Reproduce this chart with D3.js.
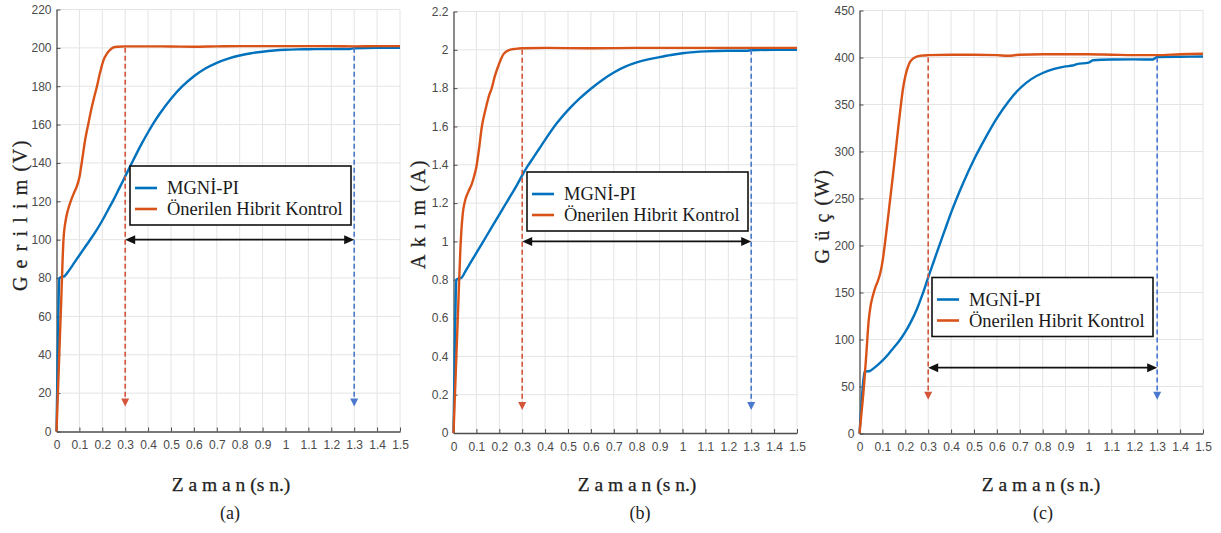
<!DOCTYPE html>
<html><head><meta charset="utf-8">
<script src="https://cdn.jsdelivr.net/npm/d3@7"></script>
<style>
body{margin:0;background:#fff;}
svg{display:block;}
</style></head><body>
<svg id="chart" width="1221" height="533"></svg>
<script>
// ---------- data ----------
const xTicks = [0,0.1,0.2,0.3,0.4,0.5,0.6,0.7,0.8,0.9,1,1.1,1.2,1.3,1.4,1.5];
const yTicksA = [0,20,40,60,80,100,120,140,160,180,200,220];
const yTicksB = [0,0.2,0.4,0.6,0.8,1,1.2,1.4,1.6,1.8,2,2.2];
const yTicksC = [0,50,100,150,200,250,300,350,400,450];

const seriesNames = ["MGNİ-PI","Önerilen Hibrit Kontrol"];
const xTitle = "Z a m a n (s n.)";
const yTitles = ["G e r i l i m  (V)","A k ı m  (A)","G ü ç  (W)"];
const captions = ["(a)","(b)","(c)"];
const settleTimes = [0.3, 1.3];          // hybrid, MGNİ-PI settling times
const arrowLevels = [100, 1.0, 70];      // level of double arrow
const dashTops = [200, 2, 400];          // top of dashed markers
const dashTips = [13, 0.12, 36];         // tip of dashed markers

// (a) Voltage
const tBlueA = [0,0.004,0.008,0.012,0.02,0.035,0.05,0.075,0.1,0.125,0.15,0.175,0.2,0.225,0.25,0.275,0.3,0.325,0.35,0.375,0.4,0.425,0.45,0.5,0.55,0.6,0.65,0.7,0.75,0.8,0.85,0.9,0.95,1.0,1.05,1.1,1.2,1.28,1.3,1.4,1.5];
const vBlueA = [0,30,60,80,80.5,81,83.2,87.5,91.9,96.2,100.5,105,110,115.5,121,127,133,139,145,150.7,156,161,165.5,173.5,180,185.2,189.2,192.2,194.4,196,197.2,198,198.6,199,199.2,199.3,199.4,199.4,199.8,200,200];
const tOrangeA = [0,0.01,0.02,0.03,0.04,0.05,0.062,0.075,0.088,0.1,0.11,0.125,0.14,0.154,0.165,0.176,0.19,0.205,0.22,0.234,0.25,0.27,0.3,0.4,0.5,0.6,0.7,0.8,0.9,1.0,1.1,1.2,1.3,1.4,1.5];
const vOrangeA = [0,33,66,99,110,115.5,120,124,127.5,132.5,140,152,161,169,174.5,179.6,187,193.5,197,199,200.3,200.6,200.8,200.8,200.7,200.6,200.8,200.9,200.9,200.9,200.9,200.9,200.8,200.9,200.9];

// (b) Current
const tBlueB = [0,0.004,0.008,0.012,0.02,0.035,0.05,0.075,0.1,0.125,0.15,0.175,0.2,0.225,0.25,0.275,0.3,0.325,0.35,0.375,0.4,0.45,0.5,0.55,0.6,0.65,0.7,0.75,0.8,0.85,0.9,0.95,1.0,1.05,1.1,1.2,1.28,1.3,1.4,1.5];
const vBlueB = [0,0.3,0.6,0.8,0.805,0.81,0.84,0.89,0.94,0.99,1.04,1.09,1.14,1.19,1.24,1.29,1.345,1.395,1.44,1.485,1.53,1.615,1.685,1.745,1.797,1.843,1.882,1.912,1.934,1.95,1.962,1.973,1.982,1.988,1.992,1.995,1.995,1.998,2.0,2.0];
const tOrangeB = [0,0.01,0.02,0.03,0.04,0.05,0.065,0.08,0.09,0.1,0.11,0.124,0.14,0.155,0.167,0.18,0.2,0.22,0.245,0.27,0.3,0.4,0.6,0.8,1.0,1.2,1.4,1.5];
const vOrangeB = [0,0.32,0.64,0.96,1.14,1.21,1.26,1.3,1.34,1.39,1.47,1.6,1.69,1.76,1.8,1.86,1.93,1.98,2.0,2.005,2.008,2.01,2.008,2.01,2.01,2.01,2.01,2.01];

// (c) Power
const tBlueC = [0,0.005,0.01,0.015,0.022,0.03,0.045,0.06,0.08,0.1,0.125,0.15,0.175,0.2,0.225,0.25,0.275,0.3,0.325,0.35,0.375,0.4,0.45,0.5,0.55,0.6,0.65,0.7,0.75,0.8,0.85,0.9,0.93,0.95,1.0,1.02,1.1,1.2,1.28,1.3,1.4,1.5];
const vBlueC = [0,18,36,52,65,66,66.5,69,73,77.5,84,91.5,99,108,119,132,148,166,183.5,201,218,235,265,291.5,314.5,335.5,353,367,377,383.5,387.8,390.5,391.5,393,394.5,397,397.8,398,397.8,400.5,400.8,401];
const tOrangeC = [0,0.01,0.02,0.03,0.04,0.05,0.06,0.07,0.08,0.09,0.1,0.11,0.12,0.13,0.14,0.15,0.16,0.17,0.18,0.19,0.2,0.21,0.22,0.235,0.25,0.27,0.3,0.4,0.5,0.6,0.65,0.7,0.8,0.9,1.0,1.1,1.2,1.3,1.4,1.5];
const vOrangeC = [0,25,52,85,120,138,148,156,162,170,182,200,220,241,262,283,305,327,348,367,380,389,395,399,401,402,402.5,403,403,402.5,401.8,403,403.5,403.5,403.5,403,402.5,402.5,403.5,404];

// ---------- layout / style ----------
const BLUE = "#0072BD", ORANGE = "#D95319";
const DASH_RED = "#d4553a", DASH_BLUE = "#4a78cc";
const PW = 343.5;
const panels = [
  {L:56.5, T:9.5, B:431.5, yTicks:yTicksA, tb:tBlueA, vb:vBlueA, to:tOrangeA, vo:vOrangeA,
   yTitleX:20, yTitleY:215, titleX:231, capX:230, leg:{x:130,y:166}},
  {L:453.5, T:11.5, B:433, yTicks:yTicksB, tb:tBlueB, vb:vBlueB, to:tOrangeB, vo:vOrangeB,
   yTitleX:418, yTitleY:214, titleX:637, capX:640, leg:{x:527,y:172}},
  {L:859.5, T:10.5, B:433.5, yTicks:yTicksC, tb:tBlueC, vb:vBlueC, to:tOrangeC, vo:vOrangeC,
   yTitleX:822, yTitleY:216, titleX:1041, capX:1043, leg:{x:932,y:277.5}}
];

const svg = d3.select("#chart");
const tickFont = "'Liberation Sans Narrow','Arial Narrow','Liberation Sans',Arial,sans-serif";
const serif = "'Liberation Serif','Times New Roman',serif";

panels.forEach((p, i) => {
  const yTicks = p.yTicks;
  const x = d3.scaleLinear().domain([0, 1.5]).range([p.L, p.L + PW]);
  const y = d3.scaleLinear().domain([0, yTicks[yTicks.length - 1]]).range([p.B, p.T]);
  const g = svg.append("g");

  // grid
  g.append("g").selectAll("line").data(xTicks.slice(1)).join("line")
    .attr("x1", d => x(d)).attr("x2", d => x(d)).attr("y1", p.T).attr("y2", p.B)
    .attr("stroke", "#e4e4e4").attr("stroke-width", 1);
  g.append("g").selectAll("line").data(yTicks.slice(1)).join("line")
    .attr("x1", p.L).attr("x2", p.L + PW).attr("y1", d => y(d)).attr("y2", d => y(d))
    .attr("stroke", "#e4e4e4").attr("stroke-width", 1);

  // axes
  const xAxis = d3.axisBottom(x).tickValues(xTicks).tickFormat(d => String(d))
    .tickSizeInner(-4).tickSizeOuter(0).tickPadding(9);
  const yAxis = d3.axisLeft(y).tickValues(yTicks).tickFormat(d => String(d))
    .tickSizeInner(-4).tickSizeOuter(0).tickPadding(5);
  const gx = g.append("g").attr("transform", `translate(0,${p.B})`).call(xAxis);
  const gy = g.append("g").attr("transform", `translate(${p.L},0)`).call(yAxis);
  [gx, gy].forEach(a => {
    a.select(".domain").attr("stroke", "#4d4d4d").attr("stroke-width", 1.3);
    a.selectAll(".tick line").attr("stroke", "#4d4d4d").attr("stroke-width", 1);
    a.selectAll("text").attr("fill", "#4a4a4a").style("font-family", tickFont).style("font-size", "12px");
  });

  // curves
  const line = d3.line().x(d => x(d[0])).y(d => y(d[1])).curve(d3.curveMonotoneX);
  g.append("path").datum(p.tb.map((t, k) => [t, p.vb[k]]))
    .attr("d", line).attr("fill", "none").attr("stroke", BLUE).attr("stroke-width", 2.4);
  g.append("path").datum(p.to.map((t, k) => [t, p.vo[k]]))
    .attr("d", line).attr("fill", "none").attr("stroke", ORANGE).attr("stroke-width", 2.4);

  // dashed settling markers
  [[settleTimes[0], DASH_RED], [settleTimes[1], DASH_BLUE]].forEach(([t, c]) => {
    const xs = x(t), y0 = y(dashTops[i]), y1 = y(dashTips[i]);
    g.append("line").attr("x1", xs).attr("x2", xs).attr("y1", y0).attr("y2", y1 - 7)
      .attr("stroke", c).attr("stroke-width", 1.6).attr("stroke-dasharray", "5,3");
    g.append("path").attr("d", `M${xs - 4},${y1 - 8}L${xs + 4},${y1 - 8}L${xs},${y1}Z`).attr("fill", c);
  });

  // double arrow
  const ax0 = x(settleTimes[0]), ax1 = x(settleTimes[1]), ay = y(arrowLevels[i]);
  g.append("line").attr("x1", ax0 + 6).attr("x2", ax1 - 6).attr("y1", ay).attr("y2", ay)
    .attr("stroke", "#111").attr("stroke-width", 1.8);
  g.append("path").attr("d", `M${ax0},${ay}L${ax0 + 10},${ay - 4.5}L${ax0 + 10},${ay + 4.5}Z`).attr("fill", "#111");
  g.append("path").attr("d", `M${ax1},${ay}L${ax1 - 10},${ay - 4.5}L${ax1 - 10},${ay + 4.5}Z`).attr("fill", "#111");

  // legend
  const lg = g.append("g").attr("transform", `translate(${p.leg.x},${p.leg.y})`);
  lg.append("rect").attr("width", 221).attr("height", 59).attr("fill", "#fff")
    .attr("stroke", "#111").attr("stroke-width", 1.6);
  [[BLUE, 22], [ORANGE, 43]].forEach(([c, yy], k) => {
    lg.append("line").attr("x1", 5).attr("x2", 27).attr("y1", yy).attr("y2", yy)
      .attr("stroke", c).attr("stroke-width", 2.6);
    lg.append("text").attr("x", 37).attr("y", yy + 6).text(seriesNames[k])
      .style("font-family", serif).style("font-size", "18.5px").attr("fill", "#1a1a1a");
  });

  // titles
  g.append("text").attr("x", p.titleX).attr("y", 491).attr("text-anchor", "middle")
    .text(xTitle).style("font-family", serif).style("font-size", "19.5px")
    .attr("fill", "#222").attr("stroke", "#222").attr("stroke-width", 0.25);
  g.append("text").attr("x", p.capX).attr("y", 519).attr("text-anchor", "middle")
    .text(captions[i]).style("font-family", serif).style("font-size", "18px").attr("fill", "#222");
  g.append("text").attr("transform", `translate(${p.yTitleX + 7},${p.yTitleY}) rotate(-90)`)
    .attr("text-anchor", "middle").text(yTitles[i])
    .style("font-family", serif).style("font-size", "20px")
    .style("letter-spacing", "1.6px").attr("fill", "#222").attr("stroke", "#222").attr("stroke-width", 0.25);
});
</script>
</body></html>
